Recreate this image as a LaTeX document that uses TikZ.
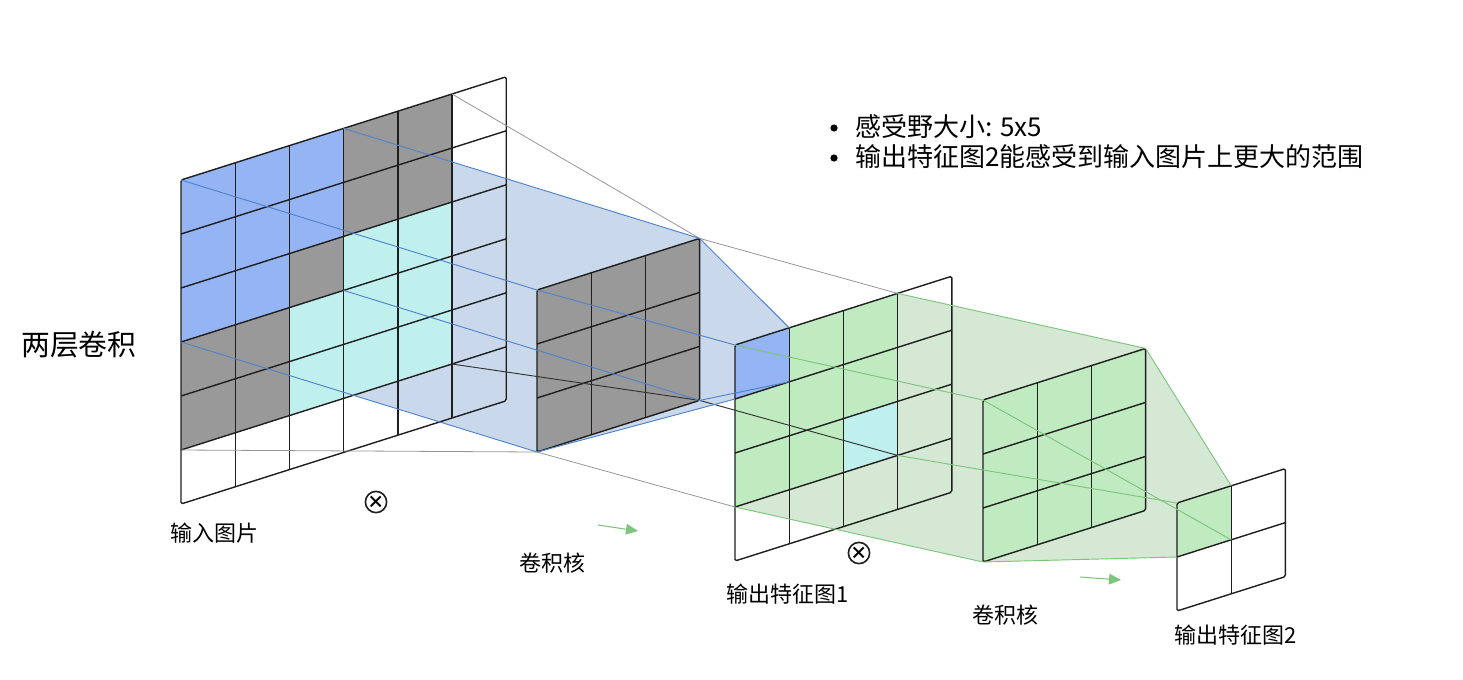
\documentclass[tikz,border=0pt]{standalone}
\usepackage{fontspec}
\setmainfont{Noto Sans CJK SC}
\newfontfamily\symfont{DejaVu Sans}
\usetikzlibrary{arrows.meta}
\definecolor{bluecell}{RGB}{149,180,244}
\definecolor{graycell}{RGB}{153,153,153}
\definecolor{cyancell}{RGB}{192,240,238}
\definecolor{greencell}{RGB}{192,235,192}
\definecolor{bluefill}{RGB}{201,217,235}
\definecolor{greenfill}{RGB}{213,232,212}
\definecolor{blueline}{RGB}{80,130,205}
\definecolor{greenline}{RGB}{125,196,125}
\definecolor{grayline}{RGB}{150,150,150}
\definecolor{darkline}{RGB}{50,50,50}
\definecolor{gridcol}{RGB}{30,30,30}
\newcommand{\fillcell}[4]{%
  \pgfmathtruncatemacro{\cI}{#2+1}\pgfmathtruncatemacro{\cJ}{#3+1}%
  \fill[#4] (#1-#2-#3) -- (#1-\cI-#3) -- (#1-\cI-\cJ) -- (#1-#2-\cJ) -- cycle;}
\newcommand{\gridplane}[2]{%
  \pgfmathtruncatemacro{\gM}{#2-1}%
  \foreach \k in {1,...,\gM}{\draw[gridline] (#1-\k-0) -- (#1-\k-#2); \draw[gridline] (#1-0-\k) -- (#1-#2-\k);}%
  \draw[gridline, rounded corners=1.2pt] (#1-0-0) -- (#1-#2-0) -- (#1-#2-#2) -- (#1-0-#2) -- cycle;}
\begin{document}
\begin{tikzpicture}[x=0.75pt,y=-0.75pt,
  gridline/.style={draw=gridcol, line width=1.05pt, line join=round},
  bconn/.style={draw=blueline, line width=0.7pt},
  gconn/.style={draw=greenline, line width=0.7pt},
  grconn/.style={draw=grayline, line width=0.6pt},
  dconn/.style={draw=darkline, line width=0.7pt},
  label/.style={anchor=west, inner sep=0pt, font=\fontsize{16.5}{20}\selectfont},
  arr/.style={draw=greenline, line width=0.8pt, -{Triangle[length=9pt,width=8pt]}},
  otimes/.style={circle, draw=gridcol, line width=1.2pt, minimum size=13.5pt, inner sep=0pt,
    font=\fontsize{13}{13}\selectfont\bfseries},
  bullet/.style={circle, fill=black, inner sep=0pt, minimum size=5.4pt}]
\useasboundingbox (0,0) rectangle (1463,679);
% plane coordinates
\foreach \p/\ox/\oy/\m in {in/181/180/6, ka/537/290/3, oa/735/345/4, kb/983/400/3, ob/1177/503/2}{
  \foreach \i in {0,...,\m}{
    \foreach \j in {0,...,\m}{
      \coordinate (\p-\i-\j) at ({\ox+54.2*\i},{\oy-17.2*\i+54*\j});
    }
  }
}
% translucent projections
\fill[bluefill] (in-0-0) -- (in-3-0) -- (ka-3-0) -- (oa-1-0) -- (oa-1-1) -- (oa-0-1) -- (ka-0-3) -- (in-0-3) -- cycle;
\fill[greenfill] (oa-0-0) -- (oa-3-0) -- (kb-3-0) -- (ob-1-0) -- (ob-1-1) -- (ob-0-1) -- (kb-0-3) -- (oa-0-3) -- cycle;
% input cells
\foreach \i/\j in {0/0,1/0,2/0,0/1,1/1,2/1,0/2,1/2} {\fillcell{in}{\i}{\j}{bluecell}}
\foreach \i/\j in {3/0,4/0,3/1,4/1,2/2,0/3,1/3,0/4,1/4} {\fillcell{in}{\i}{\j}{graycell}}
\foreach \i/\j in {3/2,4/2,2/3,3/3,4/3,2/4,3/4,4/4} {\fillcell{in}{\i}{\j}{cyancell}}
% kernel 1
\fill[graycell] (ka-0-0) -- (ka-3-0) -- (ka-3-3) -- (ka-0-3) -- cycle;
% output 1
\fillcell{oa}{0}{0}{bluecell}
\foreach \i/\j in {1/0,2/0,0/1,1/1,2/1,0/2,1/2} {\fillcell{oa}{\i}{\j}{greencell}}
\fillcell{oa}{2}{2}{cyancell}
% kernel 2
\fill[greencell] (kb-0-0) -- (kb-3-0) -- (kb-3-3) -- (kb-0-3) -- cycle;
% output 2
\fillcell{ob}{0}{0}{greencell}
% grids
\gridplane{in}{6}
\gridplane{ka}{3}
\gridplane{oa}{4}
\gridplane{kb}{3}
\gridplane{ob}{2}
% gray receptive field connectors
\draw[grconn] (in-5-0) -- (ka-3-0) -- (oa-3-0);
\draw[grconn] (in-0-5) -- (ka-0-3) -- (oa-0-3);
\draw[dconn] (in-5-5) -- (ka-3-3) -- (oa-3-3);
% blue connectors
\draw[bconn] (in-0-0) -- (ka-0-0) -- (oa-0-0);
\draw[bconn] (in-3-0) -- (ka-3-0) -- (oa-1-0);
\draw[bconn] (in-0-3) -- (ka-0-3) -- (oa-0-1);
\draw[bconn] (in-3-3) -- (ka-3-3) -- (oa-1-1);
% green connectors
\draw[gconn] (oa-0-0) -- (kb-0-0) -- (ob-1-1);
\draw[gconn] (oa-3-0) -- (kb-3-0) -- (ob-1-0);
\draw[gconn] (oa-0-3) -- (kb-0-3) -- (ob-0-1);
\draw[gconn] (oa-3-3) -- (ob-0-0);
% arrows
\coordinate (a1s) at (598,525); \coordinate (a1e) at (638,531);
\coordinate (a2s) at (1080,577); \coordinate (a2e) at (1121,580);
\draw[arr] (a1s) -- (a1e);
\draw[arr] (a2s) -- (a2e);
% convolution symbols
\node[otimes] (op1) at (376,502) {×};
\node[otimes] (op2) at (859,553) {×};
% labels
\node[anchor=west, inner sep=0pt, font=\fontsize{21.6}{26}\selectfont] (title) at (21,345) {两层卷积};
\node[label] (lin) at (170,533) {输入图片};
\node[label] (lka) at (519,563) {卷积核};
\node[label] (loa) at (726,594) {输出特征图1};
\node[label] (lkb) at (972,615) {卷积核};
\node[label] (lob) at (1174,635) {输出特征图2};
% notes
\node[bullet] (b1) at (834,128) {};
\node[bullet] (b2) at (834,158) {};
\node[anchor=west, inner sep=0pt, font=\fontsize{19.5}{24}\selectfont] (n1) at (855,127) {感受野大小: 5x5};
\node[anchor=west, inner sep=0pt, font=\fontsize{19.5}{24}\selectfont] (n2) at (855,157) {输出特征图2能感受到输入图片上更大的范围};
\end{tikzpicture}
\end{document}
